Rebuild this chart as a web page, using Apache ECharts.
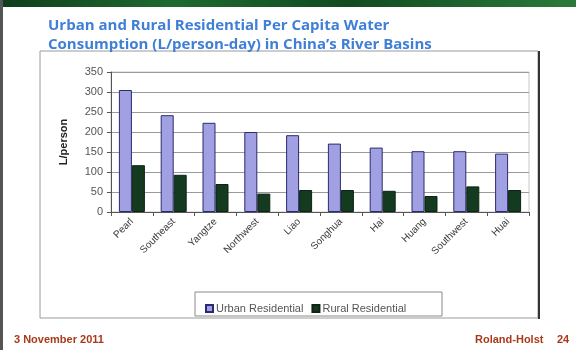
<!DOCTYPE html>
<html>
<head>
<meta charset="utf-8">
<script src="https://cdn.jsdelivr.net/npm/echarts@6/dist/echarts.min.js"></script>
<style>
  html, body { margin: 0; padding: 0; background: #ffffff; }
  #chart { width: 576px; height: 350px; }
</style>
</head>
<body>
<div id="chart"></div>
<script>
// River basins and residential water use per person per day
const basins = ['Pearl', 'Southeast', 'Yangtze', 'Northwest', 'Liao', 'Songhua', 'Hai', 'Huang', 'Southwest', 'Huai'];
const urbanResidential = [305, 242, 223, 200, 192, 171, 161, 152, 152, 146];
const ruralResidential = [117, 93, 70, 46, 55, 55, 53, 40, 64, 55];
const yTicks = [0, 50, 100, 150, 200, 250, 300, 350];

const chart = echarts.init(document.getElementById('chart'), null, { renderer: 'canvas' });

const option = {
  backgroundColor: '#ffffff',
  animation: false,
  title: {
    text: 'Urban and Rural Residential Per Capita Water\nConsumption (L/person-day) in China\u2019s River Basins',
    left: 48,
    top: 16,
    padding: 0,
    textStyle: {
      fontFamily: 'Open Sans',
      fontWeight: 'bold',
      fontSize: 15,
      lineHeight: 19,
      color: '#3f7fd6'
    }
  },
  graphic: [
    // slide header band
    { type: 'rect', shape: { x: 0, y: 0, width: 576, height: 7 },
      style: { fill: new echarts.graphic.LinearGradient(0, 0, 1, 0, [
        { offset: 0, color: '#0f3d1c' }, { offset: 0.3, color: '#1d6a30' },
        { offset: 0.6, color: '#124a22' }, { offset: 1, color: '#2a7a3a' }]) }, z: 0 },
    // slide left edge
    { type: 'rect', shape: { x: 0, y: 0, width: 3, height: 350 }, style: { fill: '#555555' }, z: 0 },
    // chart frame
    { type: 'rect', shape: { x: 40, y: 51, width: 498, height: 267 },
      style: { fill: 'none', stroke: '#9a9a9a', lineWidth: 1 }, z: 0 },
    { type: 'line', shape: { x1: 539, y1: 51, x2: 539, y2: 319 },
      style: { stroke: '#333333', lineWidth: 2 }, z: 0 },
    // legend box
    { type: 'rect', shape: { x: 195, y: 292, width: 247, height: 24 },
      style: { fill: '#ffffff', stroke: '#8a8a8a', lineWidth: 1 }, z: 1 },
    // footer
    { type: 'text', left: 14, top: 334,
      style: { text: '3 November 2011', font: 'bold 11px "Liberation Sans"', fill: '#a83a1a' } },
    { type: 'text', left: 475, top: 334,
      style: { text: 'Roland-Holst', font: 'bold 11px "Liberation Sans"', fill: '#a83a1a' } },
    { type: 'text', left: 557, top: 334,
      style: { text: '24', font: 'bold 11px "Liberation Sans"', fill: '#a83a1a' } }
  ],
  legend: {
    data: ['Urban Residential', 'Rural Residential'],
    left: 200,
    top: 298,
    icon: 'rect',
    itemWidth: 7,
    itemHeight: 7,
    itemGap: 8,
    textStyle: { fontFamily: 'Liberation Sans', fontSize: 11, color: '#555555', padding: [0, 0, 0, -2] }
  },
  grid: {
    left: 111,
    top: 72,
    width: 418,
    height: 140,
    show: true,
    borderColor: '#c8c8c8',
    borderWidth: 1
  },
  xAxis: {
    type: 'category',
    data: basins,
    axisLine: { lineStyle: { color: '#555555', width: 1 } },
    axisTick: { show: true, length: 4, lineStyle: { color: '#555555' } },
    axisLabel: {
      rotate: 45,
      margin: 8,
      fontFamily: 'Liberation Sans',
      fontSize: 10,
      color: '#3a3a3a'
    }
  },
  yAxis: {
    type: 'value',
    min: 0,
    max: 350,
    interval: 50,
    name: 'L/person',
    nameLocation: 'middle',
    nameGap: 42,
    nameRotate: 90,
    nameTextStyle: { fontFamily: 'Liberation Sans', fontSize: 11, fontWeight: 'bold', color: '#222222' },
    axisLine: { show: true, lineStyle: { color: '#555555' } },
    axisTick: { show: true, length: 4, lineStyle: { color: '#555555' } },
    axisLabel: {
      margin: 8,
      fontFamily: 'Liberation Sans',
      fontSize: 11,
      color: '#555555',
      formatter: v => (yTicks.includes(v) ? String(v) : '')
    },
    splitLine: { lineStyle: { color: '#9a9a9a', width: 1 } }
  },
  series: [
    {
      name: 'Urban Residential',
      type: 'bar',
      data: urbanResidential,
      barWidth: 13,
      barGap: '0%',
      itemStyle: { color: '#a0a0e2', borderColor: '#2a2a70', borderWidth: 1 }
    },
    {
      name: 'Rural Residential',
      type: 'bar',
      data: ruralResidential,
      barWidth: 13,
      itemStyle: { color: '#143a20', borderColor: '#0c2412', borderWidth: 1 }
    }
  ]
};

chart.setOption(option);
</script>
</body>
</html>
